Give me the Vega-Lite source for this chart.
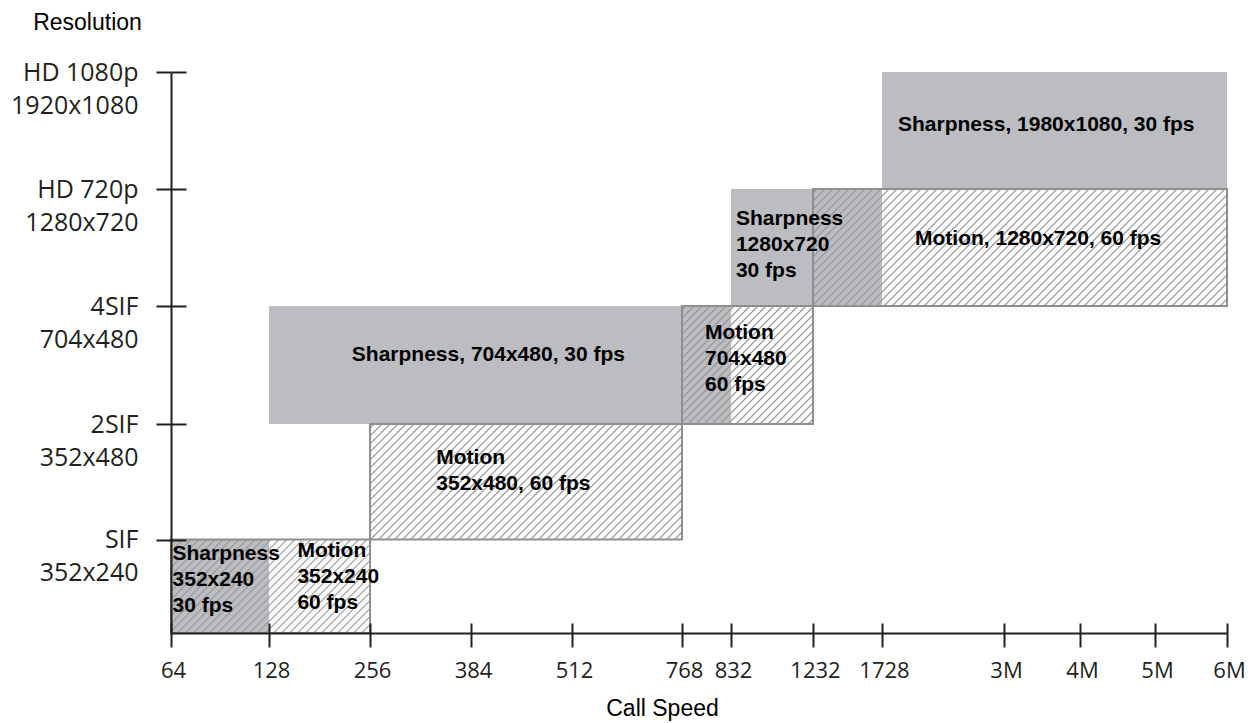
{
"$schema":"https://vega.github.io/schema/vega-lite/v6.json",
"autosize":{"type":"none"},
"padding":{"left":171,"top":72,"right":23,"bottom":90},
"width":1056,
"height":561,
"background":"white",
"config":{"view":{"stroke":null}},
"data":{"values":[
{"mode":"Sharpness","res":"352x240","fps":30,"speedFrom":64,"speedTo":128,"levelFrom":0,"levelTo":1,"label":"Sharpness\n352x240\n30 fps","labelSpeed":65,"labelLevel":0.78},
{"mode":"Motion","res":"352x240","fps":60,"speedFrom":64,"speedTo":256,"levelFrom":0,"levelTo":1,"label":"Motion\n352x240\n60 fps","labelSpeed":164,"labelLevel":0.81},
{"mode":"Motion","res":"352x480","fps":60,"speedFrom":256,"speedTo":768,"levelFrom":1,"levelTo":2,"label":"Motion\n352x480, 60 fps","labelSpeed":340,"labelLevel":1.65},
{"mode":"Sharpness","res":"704x480","fps":30,"speedFrom":128,"speedTo":832,"levelFrom":2,"levelTo":3,"label":"Sharpness, 704x480, 30 fps","labelSpeed":233,"labelLevel":2.53},
{"mode":"Motion","res":"704x480","fps":60,"speedFrom":768,"speedTo":1232,"levelFrom":2,"levelTo":3,"label":"Motion\n704x480\n60 fps","labelSpeed":798,"labelLevel":2.72},
{"mode":"Sharpness","res":"1280x720","fps":30,"speedFrom":832,"speedTo":1728,"levelFrom":3,"levelTo":4,"label":"Sharpness\n1280x720\n30 fps","labelSpeed":856,"labelLevel":3.69},
{"mode":"Motion","res":"1280x720","fps":60,"speedFrom":1232,"speedTo":6000,"levelFrom":3,"levelTo":4,"label":"Motion, 1280x720, 60 fps","labelSpeed":2072,"labelLevel":3.52},
{"mode":"Sharpness","res":"1920x1080","fps":30,"speedFrom":1728,"speedTo":6000,"levelFrom":4,"levelTo":5,"label":"Sharpness, 1980x1080, 30 fps","labelSpeed":1895,"labelLevel":4.5}
]},
"resolve":{"axis":{"x":"independent","y":"independent"}},
"layer":[
{
"transform":[{"filter":"datum.mode==='Sharpness'"}],
"mark":{"type":"rect","fill":"#bcbdc1"},
"encoding":{
"x":{"field":"speedFrom","type":"quantitative",
"scale":{"type":"linear","domain":[64,128,256,384,512,768,832,1232,1728,3000,4000,5000,6000],"range":[0,98,199,300,401,511,560,642,711,833,909,984,1056],"zero":false,"nice":false},
"axis":{"orient":"bottom","values":[64,128,256,384,512,768,832,1232,1728,3000,4000,5000,6000],"labelExpr":"datum.value>=3000?(datum.value/1000)+'M':datum.value+''","title":"Call Speed","titleX":491,"titleY":82,"titleAlign":"center","titleAnchor":"start","titleBaseline":"alphabetic","titleFont":"Liberation Sans","titleFontSize":23,"titleFontWeight":"normal","titleColor":"#000000","labelFont":"Open Sans","labelFontSize":22,"labelColor":"#231f20","labelBaseline":"alphabetic","labelPadding":30,"labelOffset":2,"labelAlign":"center","labelFlush":false,"labelOverlap":false,"tickSize":14,"tickWidth":2,"tickColor":"#231f20","domainColor":"#231f20","domainWidth":2,"grid":false,"zindex":1}},
"x2":{"field":"speedTo"},
"y":{"field":"levelFrom","type":"quantitative",
"scale":{"type":"linear","domain":[0,1,2,3,4,5],"range":[561,467.5,352,234,117,0],"zero":false,"nice":false},
"axis":{"orient":"left","values":[1,2,3,4,5],"labelExpr":"datum.value==1?['SIF','352x240']:datum.value==2?['2SIF','352x480']:datum.value==3?['4SIF','704x480']:datum.value==4?['HD 720p','1280x720']:['HD 1080p','1920x1080']","title":"Resolution","titleAngle":0,"titleX":-84,"titleY":-43,"titleAlign":"center","titleAnchor":"start","titleBaseline":"alphabetic","titleFont":"Liberation Sans","titleFontSize":23,"titleFontWeight":"normal","titleColor":"#000000","labelFont":"Open Sans","labelFontSize":25,"labelColor":"#231f20","labelAlign":"right","labelBaseline":"alphabetic","labelLineHeight":33,"labelOffset":8,"labelPadding":18,"labelOverlap":false,"labelFlush":false,"tickSize":15,"tickWidth":2,"tickColor":"#231f20","domainColor":"#231f20","domainWidth":2,"grid":false,"zindex":1}},
"y2":{"field":"levelTo"}
}
},
{
"transform":[{"filter":"datum.mode==='Motion' && datum.res==='352x240'"}],
"mark":{"type":"rect","stroke":"#8e8e8e","strokeWidth":2,"fill":{"gradient":"linear","x1":0,"y1":0,"x2":1.3172,"y2":0.6189,"stops":[
{"offset":0.0075,"color":"rgba(150,150,150,0)"},{"offset":0.0125,"color":"#969696"},{"offset":0.0175,"color":"rgba(150,150,150,0)"},
{"offset":0.0325,"color":"rgba(150,150,150,0)"},{"offset":0.0375,"color":"#969696"},{"offset":0.0425,"color":"rgba(150,150,150,0)"},
{"offset":0.0575,"color":"rgba(150,150,150,0)"},{"offset":0.0625,"color":"#969696"},{"offset":0.0675,"color":"rgba(150,150,150,0)"},
{"offset":0.0825,"color":"rgba(150,150,150,0)"},{"offset":0.0875,"color":"#969696"},{"offset":0.0925,"color":"rgba(150,150,150,0)"},
{"offset":0.1075,"color":"rgba(150,150,150,0)"},{"offset":0.1125,"color":"#969696"},{"offset":0.1175,"color":"rgba(150,150,150,0)"},
{"offset":0.1325,"color":"rgba(150,150,150,0)"},{"offset":0.1375,"color":"#969696"},{"offset":0.1425,"color":"rgba(150,150,150,0)"},
{"offset":0.1575,"color":"rgba(150,150,150,0)"},{"offset":0.1625,"color":"#969696"},{"offset":0.1675,"color":"rgba(150,150,150,0)"},
{"offset":0.1825,"color":"rgba(150,150,150,0)"},{"offset":0.1875,"color":"#969696"},{"offset":0.1925,"color":"rgba(150,150,150,0)"},
{"offset":0.2075,"color":"rgba(150,150,150,0)"},{"offset":0.2125,"color":"#969696"},{"offset":0.2175,"color":"rgba(150,150,150,0)"},
{"offset":0.2325,"color":"rgba(150,150,150,0)"},{"offset":0.2375,"color":"#969696"},{"offset":0.2425,"color":"rgba(150,150,150,0)"},
{"offset":0.2575,"color":"rgba(150,150,150,0)"},{"offset":0.2625,"color":"#969696"},{"offset":0.2675,"color":"rgba(150,150,150,0)"},
{"offset":0.2825,"color":"rgba(150,150,150,0)"},{"offset":0.2875,"color":"#969696"},{"offset":0.2925,"color":"rgba(150,150,150,0)"},
{"offset":0.3075,"color":"rgba(150,150,150,0)"},{"offset":0.3125,"color":"#969696"},{"offset":0.3175,"color":"rgba(150,150,150,0)"},
{"offset":0.3325,"color":"rgba(150,150,150,0)"},{"offset":0.3375,"color":"#969696"},{"offset":0.3425,"color":"rgba(150,150,150,0)"},
{"offset":0.3575,"color":"rgba(150,150,150,0)"},{"offset":0.3625,"color":"#969696"},{"offset":0.3675,"color":"rgba(150,150,150,0)"},
{"offset":0.3825,"color":"rgba(150,150,150,0)"},{"offset":0.3875,"color":"#969696"},{"offset":0.3925,"color":"rgba(150,150,150,0)"},
{"offset":0.4075,"color":"rgba(150,150,150,0)"},{"offset":0.4125,"color":"#969696"},{"offset":0.4175,"color":"rgba(150,150,150,0)"},
{"offset":0.4325,"color":"rgba(150,150,150,0)"},{"offset":0.4375,"color":"#969696"},{"offset":0.4425,"color":"rgba(150,150,150,0)"},
{"offset":0.4575,"color":"rgba(150,150,150,0)"},{"offset":0.4625,"color":"#969696"},{"offset":0.4675,"color":"rgba(150,150,150,0)"},
{"offset":0.4825,"color":"rgba(150,150,150,0)"},{"offset":0.4875,"color":"#969696"},{"offset":0.4925,"color":"rgba(150,150,150,0)"},
{"offset":0.5075,"color":"rgba(150,150,150,0)"},{"offset":0.5125,"color":"#969696"},{"offset":0.5175,"color":"rgba(150,150,150,0)"},
{"offset":0.5325,"color":"rgba(150,150,150,0)"},{"offset":0.5375,"color":"#969696"},{"offset":0.5425,"color":"rgba(150,150,150,0)"},
{"offset":0.5575,"color":"rgba(150,150,150,0)"},{"offset":0.5625,"color":"#969696"},{"offset":0.5675,"color":"rgba(150,150,150,0)"},
{"offset":0.5825,"color":"rgba(150,150,150,0)"},{"offset":0.5875,"color":"#969696"},{"offset":0.5925,"color":"rgba(150,150,150,0)"},
{"offset":0.6075,"color":"rgba(150,150,150,0)"},{"offset":0.6125,"color":"#969696"},{"offset":0.6175,"color":"rgba(150,150,150,0)"},
{"offset":0.6325,"color":"rgba(150,150,150,0)"},{"offset":0.6375,"color":"#969696"},{"offset":0.6425,"color":"rgba(150,150,150,0)"},
{"offset":0.6575,"color":"rgba(150,150,150,0)"},{"offset":0.6625,"color":"#969696"},{"offset":0.6675,"color":"rgba(150,150,150,0)"},
{"offset":0.6825,"color":"rgba(150,150,150,0)"},{"offset":0.6875,"color":"#969696"},{"offset":0.6925,"color":"rgba(150,150,150,0)"},
{"offset":0.7075,"color":"rgba(150,150,150,0)"},{"offset":0.7125,"color":"#969696"},{"offset":0.7175,"color":"rgba(150,150,150,0)"},
{"offset":0.7325,"color":"rgba(150,150,150,0)"},{"offset":0.7375,"color":"#969696"},{"offset":0.7425,"color":"rgba(150,150,150,0)"},
{"offset":0.7575,"color":"rgba(150,150,150,0)"},{"offset":0.7625,"color":"#969696"},{"offset":0.7675,"color":"rgba(150,150,150,0)"},
{"offset":0.7825,"color":"rgba(150,150,150,0)"},{"offset":0.7875,"color":"#969696"},{"offset":0.7925,"color":"rgba(150,150,150,0)"},
{"offset":0.8075,"color":"rgba(150,150,150,0)"},{"offset":0.8125,"color":"#969696"},{"offset":0.8175,"color":"rgba(150,150,150,0)"},
{"offset":0.8325,"color":"rgba(150,150,150,0)"},{"offset":0.8375,"color":"#969696"},{"offset":0.8425,"color":"rgba(150,150,150,0)"},
{"offset":0.8575,"color":"rgba(150,150,150,0)"},{"offset":0.8625,"color":"#969696"},{"offset":0.8675,"color":"rgba(150,150,150,0)"},
{"offset":0.8825,"color":"rgba(150,150,150,0)"},{"offset":0.8875,"color":"#969696"},{"offset":0.8925,"color":"rgba(150,150,150,0)"},
{"offset":0.9075,"color":"rgba(150,150,150,0)"},{"offset":0.9125,"color":"#969696"},{"offset":0.9175,"color":"rgba(150,150,150,0)"}
]}},
"encoding":{"x":{"field":"speedFrom","type":"quantitative","axis":null},"x2":{"field":"speedTo"},"y":{"field":"levelFrom","type":"quantitative","axis":null},"y2":{"field":"levelTo"}}
},
{
"transform":[{"filter":"datum.mode==='Motion' && datum.res==='352x480'"}],
"mark":{"type":"rect","stroke":"#8e8e8e","strokeWidth":2,"fill":{"gradient":"linear","x1":0,"y1":0,"x2":1.2528,"y2":0.4638,"stops":[
{"offset":0.0054,"color":"rgba(150,150,150,0)"},{"offset":0.009,"color":"#969696"},{"offset":0.0126,"color":"rgba(150,150,150,0)"},
{"offset":0.0234,"color":"rgba(150,150,150,0)"},{"offset":0.027,"color":"#969696"},{"offset":0.0306,"color":"rgba(150,150,150,0)"},
{"offset":0.0414,"color":"rgba(150,150,150,0)"},{"offset":0.045,"color":"#969696"},{"offset":0.0486,"color":"rgba(150,150,150,0)"},
{"offset":0.0594,"color":"rgba(150,150,150,0)"},{"offset":0.063,"color":"#969696"},{"offset":0.0666,"color":"rgba(150,150,150,0)"},
{"offset":0.0774,"color":"rgba(150,150,150,0)"},{"offset":0.081,"color":"#969696"},{"offset":0.0846,"color":"rgba(150,150,150,0)"},
{"offset":0.0954,"color":"rgba(150,150,150,0)"},{"offset":0.099,"color":"#969696"},{"offset":0.1026,"color":"rgba(150,150,150,0)"},
{"offset":0.1134,"color":"rgba(150,150,150,0)"},{"offset":0.117,"color":"#969696"},{"offset":0.1206,"color":"rgba(150,150,150,0)"},
{"offset":0.1314,"color":"rgba(150,150,150,0)"},{"offset":0.135,"color":"#969696"},{"offset":0.1386,"color":"rgba(150,150,150,0)"},
{"offset":0.1494,"color":"rgba(150,150,150,0)"},{"offset":0.153,"color":"#969696"},{"offset":0.1566,"color":"rgba(150,150,150,0)"},
{"offset":0.1674,"color":"rgba(150,150,150,0)"},{"offset":0.171,"color":"#969696"},{"offset":0.1746,"color":"rgba(150,150,150,0)"},
{"offset":0.1854,"color":"rgba(150,150,150,0)"},{"offset":0.189,"color":"#969696"},{"offset":0.1926,"color":"rgba(150,150,150,0)"},
{"offset":0.2034,"color":"rgba(150,150,150,0)"},{"offset":0.207,"color":"#969696"},{"offset":0.2106,"color":"rgba(150,150,150,0)"},
{"offset":0.2214,"color":"rgba(150,150,150,0)"},{"offset":0.225,"color":"#969696"},{"offset":0.2286,"color":"rgba(150,150,150,0)"},
{"offset":0.2394,"color":"rgba(150,150,150,0)"},{"offset":0.243,"color":"#969696"},{"offset":0.2466,"color":"rgba(150,150,150,0)"},
{"offset":0.2574,"color":"rgba(150,150,150,0)"},{"offset":0.261,"color":"#969696"},{"offset":0.2646,"color":"rgba(150,150,150,0)"},
{"offset":0.2754,"color":"rgba(150,150,150,0)"},{"offset":0.279,"color":"#969696"},{"offset":0.2826,"color":"rgba(150,150,150,0)"},
{"offset":0.2934,"color":"rgba(150,150,150,0)"},{"offset":0.297,"color":"#969696"},{"offset":0.3006,"color":"rgba(150,150,150,0)"},
{"offset":0.3114,"color":"rgba(150,150,150,0)"},{"offset":0.315,"color":"#969696"},{"offset":0.3186,"color":"rgba(150,150,150,0)"},
{"offset":0.3294,"color":"rgba(150,150,150,0)"},{"offset":0.333,"color":"#969696"},{"offset":0.3366,"color":"rgba(150,150,150,0)"},
{"offset":0.3474,"color":"rgba(150,150,150,0)"},{"offset":0.351,"color":"#969696"},{"offset":0.3546,"color":"rgba(150,150,150,0)"},
{"offset":0.3654,"color":"rgba(150,150,150,0)"},{"offset":0.369,"color":"#969696"},{"offset":0.3726,"color":"rgba(150,150,150,0)"},
{"offset":0.3834,"color":"rgba(150,150,150,0)"},{"offset":0.387,"color":"#969696"},{"offset":0.3906,"color":"rgba(150,150,150,0)"},
{"offset":0.4014,"color":"rgba(150,150,150,0)"},{"offset":0.405,"color":"#969696"},{"offset":0.4086,"color":"rgba(150,150,150,0)"},
{"offset":0.4194,"color":"rgba(150,150,150,0)"},{"offset":0.423,"color":"#969696"},{"offset":0.4266,"color":"rgba(150,150,150,0)"},
{"offset":0.4374,"color":"rgba(150,150,150,0)"},{"offset":0.441,"color":"#969696"},{"offset":0.4446,"color":"rgba(150,150,150,0)"},
{"offset":0.4554,"color":"rgba(150,150,150,0)"},{"offset":0.459,"color":"#969696"},{"offset":0.4626,"color":"rgba(150,150,150,0)"},
{"offset":0.4734,"color":"rgba(150,150,150,0)"},{"offset":0.477,"color":"#969696"},{"offset":0.4806,"color":"rgba(150,150,150,0)"},
{"offset":0.4914,"color":"rgba(150,150,150,0)"},{"offset":0.495,"color":"#969696"},{"offset":0.4986,"color":"rgba(150,150,150,0)"},
{"offset":0.5094,"color":"rgba(150,150,150,0)"},{"offset":0.513,"color":"#969696"},{"offset":0.5166,"color":"rgba(150,150,150,0)"},
{"offset":0.5274,"color":"rgba(150,150,150,0)"},{"offset":0.531,"color":"#969696"},{"offset":0.5346,"color":"rgba(150,150,150,0)"},
{"offset":0.5454,"color":"rgba(150,150,150,0)"},{"offset":0.549,"color":"#969696"},{"offset":0.5526,"color":"rgba(150,150,150,0)"},
{"offset":0.5634,"color":"rgba(150,150,150,0)"},{"offset":0.567,"color":"#969696"},{"offset":0.5706,"color":"rgba(150,150,150,0)"},
{"offset":0.5814,"color":"rgba(150,150,150,0)"},{"offset":0.585,"color":"#969696"},{"offset":0.5886,"color":"rgba(150,150,150,0)"},
{"offset":0.5994,"color":"rgba(150,150,150,0)"},{"offset":0.603,"color":"#969696"},{"offset":0.6066,"color":"rgba(150,150,150,0)"},
{"offset":0.6174,"color":"rgba(150,150,150,0)"},{"offset":0.621,"color":"#969696"},{"offset":0.6246,"color":"rgba(150,150,150,0)"},
{"offset":0.6354,"color":"rgba(150,150,150,0)"},{"offset":0.639,"color":"#969696"},{"offset":0.6426,"color":"rgba(150,150,150,0)"},
{"offset":0.6534,"color":"rgba(150,150,150,0)"},{"offset":0.657,"color":"#969696"},{"offset":0.6606,"color":"rgba(150,150,150,0)"},
{"offset":0.6714,"color":"rgba(150,150,150,0)"},{"offset":0.675,"color":"#969696"},{"offset":0.6786,"color":"rgba(150,150,150,0)"},
{"offset":0.6894,"color":"rgba(150,150,150,0)"},{"offset":0.693,"color":"#969696"},{"offset":0.6966,"color":"rgba(150,150,150,0)"},
{"offset":0.7074,"color":"rgba(150,150,150,0)"},{"offset":0.711,"color":"#969696"},{"offset":0.7146,"color":"rgba(150,150,150,0)"},
{"offset":0.7254,"color":"rgba(150,150,150,0)"},{"offset":0.729,"color":"#969696"},{"offset":0.7326,"color":"rgba(150,150,150,0)"},
{"offset":0.7434,"color":"rgba(150,150,150,0)"},{"offset":0.747,"color":"#969696"},{"offset":0.7506,"color":"rgba(150,150,150,0)"},
{"offset":0.7614,"color":"rgba(150,150,150,0)"},{"offset":0.765,"color":"#969696"},{"offset":0.7686,"color":"rgba(150,150,150,0)"},
{"offset":0.7794,"color":"rgba(150,150,150,0)"},{"offset":0.783,"color":"#969696"},{"offset":0.7866,"color":"rgba(150,150,150,0)"},
{"offset":0.7974,"color":"rgba(150,150,150,0)"},{"offset":0.801,"color":"#969696"},{"offset":0.8046,"color":"rgba(150,150,150,0)"},
{"offset":0.8154,"color":"rgba(150,150,150,0)"},{"offset":0.819,"color":"#969696"},{"offset":0.8226,"color":"rgba(150,150,150,0)"},
{"offset":0.8334,"color":"rgba(150,150,150,0)"},{"offset":0.837,"color":"#969696"},{"offset":0.8406,"color":"rgba(150,150,150,0)"},
{"offset":0.8514,"color":"rgba(150,150,150,0)"},{"offset":0.855,"color":"#969696"},{"offset":0.8586,"color":"rgba(150,150,150,0)"},
{"offset":0.8694,"color":"rgba(150,150,150,0)"},{"offset":0.873,"color":"#969696"},{"offset":0.8766,"color":"rgba(150,150,150,0)"},
{"offset":0.8874,"color":"rgba(150,150,150,0)"},{"offset":0.891,"color":"#969696"},{"offset":0.8946,"color":"rgba(150,150,150,0)"},
{"offset":0.9054,"color":"rgba(150,150,150,0)"},{"offset":0.909,"color":"#969696"},{"offset":0.9126,"color":"rgba(150,150,150,0)"},
{"offset":0.9234,"color":"rgba(150,150,150,0)"},{"offset":0.927,"color":"#969696"},{"offset":0.9306,"color":"rgba(150,150,150,0)"},
{"offset":0.9414,"color":"rgba(150,150,150,0)"},{"offset":0.945,"color":"#969696"},{"offset":0.9486,"color":"rgba(150,150,150,0)"},
{"offset":0.9594,"color":"rgba(150,150,150,0)"},{"offset":0.963,"color":"#969696"},{"offset":0.9666,"color":"rgba(150,150,150,0)"}
]}},
"encoding":{"x":{"field":"speedFrom","type":"quantitative","axis":null},"x2":{"field":"speedTo"},"y":{"field":"levelFrom","type":"quantitative","axis":null},"y2":{"field":"levelTo"}}
},
{
"transform":[{"filter":"datum.mode==='Motion' && datum.res==='704x480'"}],
"mark":{"type":"rect","stroke":"#8e8e8e","strokeWidth":2,"fill":{"gradient":"linear","x1":0,"y1":0,"x2":1.1238,"y2":1.0123,"stops":[
{"offset":0.009,"color":"rgba(150,150,150,0)"},{"offset":0.015,"color":"#969696"},{"offset":0.021,"color":"rgba(150,150,150,0)"},
{"offset":0.039,"color":"rgba(150,150,150,0)"},{"offset":0.045,"color":"#969696"},{"offset":0.051,"color":"rgba(150,150,150,0)"},
{"offset":0.069,"color":"rgba(150,150,150,0)"},{"offset":0.075,"color":"#969696"},{"offset":0.081,"color":"rgba(150,150,150,0)"},
{"offset":0.099,"color":"rgba(150,150,150,0)"},{"offset":0.105,"color":"#969696"},{"offset":0.111,"color":"rgba(150,150,150,0)"},
{"offset":0.129,"color":"rgba(150,150,150,0)"},{"offset":0.135,"color":"#969696"},{"offset":0.141,"color":"rgba(150,150,150,0)"},
{"offset":0.159,"color":"rgba(150,150,150,0)"},{"offset":0.165,"color":"#969696"},{"offset":0.171,"color":"rgba(150,150,150,0)"},
{"offset":0.189,"color":"rgba(150,150,150,0)"},{"offset":0.195,"color":"#969696"},{"offset":0.201,"color":"rgba(150,150,150,0)"},
{"offset":0.219,"color":"rgba(150,150,150,0)"},{"offset":0.225,"color":"#969696"},{"offset":0.231,"color":"rgba(150,150,150,0)"},
{"offset":0.249,"color":"rgba(150,150,150,0)"},{"offset":0.255,"color":"#969696"},{"offset":0.261,"color":"rgba(150,150,150,0)"},
{"offset":0.279,"color":"rgba(150,150,150,0)"},{"offset":0.285,"color":"#969696"},{"offset":0.291,"color":"rgba(150,150,150,0)"},
{"offset":0.309,"color":"rgba(150,150,150,0)"},{"offset":0.315,"color":"#969696"},{"offset":0.321,"color":"rgba(150,150,150,0)"},
{"offset":0.339,"color":"rgba(150,150,150,0)"},{"offset":0.345,"color":"#969696"},{"offset":0.351,"color":"rgba(150,150,150,0)"},
{"offset":0.369,"color":"rgba(150,150,150,0)"},{"offset":0.375,"color":"#969696"},{"offset":0.381,"color":"rgba(150,150,150,0)"},
{"offset":0.399,"color":"rgba(150,150,150,0)"},{"offset":0.405,"color":"#969696"},{"offset":0.411,"color":"rgba(150,150,150,0)"},
{"offset":0.429,"color":"rgba(150,150,150,0)"},{"offset":0.435,"color":"#969696"},{"offset":0.441,"color":"rgba(150,150,150,0)"},
{"offset":0.459,"color":"rgba(150,150,150,0)"},{"offset":0.465,"color":"#969696"},{"offset":0.471,"color":"rgba(150,150,150,0)"},
{"offset":0.489,"color":"rgba(150,150,150,0)"},{"offset":0.495,"color":"#969696"},{"offset":0.501,"color":"rgba(150,150,150,0)"},
{"offset":0.519,"color":"rgba(150,150,150,0)"},{"offset":0.525,"color":"#969696"},{"offset":0.531,"color":"rgba(150,150,150,0)"},
{"offset":0.549,"color":"rgba(150,150,150,0)"},{"offset":0.555,"color":"#969696"},{"offset":0.561,"color":"rgba(150,150,150,0)"},
{"offset":0.579,"color":"rgba(150,150,150,0)"},{"offset":0.585,"color":"#969696"},{"offset":0.591,"color":"rgba(150,150,150,0)"},
{"offset":0.609,"color":"rgba(150,150,150,0)"},{"offset":0.615,"color":"#969696"},{"offset":0.621,"color":"rgba(150,150,150,0)"},
{"offset":0.639,"color":"rgba(150,150,150,0)"},{"offset":0.645,"color":"#969696"},{"offset":0.651,"color":"rgba(150,150,150,0)"},
{"offset":0.669,"color":"rgba(150,150,150,0)"},{"offset":0.675,"color":"#969696"},{"offset":0.681,"color":"rgba(150,150,150,0)"},
{"offset":0.699,"color":"rgba(150,150,150,0)"},{"offset":0.705,"color":"#969696"},{"offset":0.711,"color":"rgba(150,150,150,0)"},
{"offset":0.729,"color":"rgba(150,150,150,0)"},{"offset":0.735,"color":"#969696"},{"offset":0.741,"color":"rgba(150,150,150,0)"},
{"offset":0.759,"color":"rgba(150,150,150,0)"},{"offset":0.765,"color":"#969696"},{"offset":0.771,"color":"rgba(150,150,150,0)"},
{"offset":0.789,"color":"rgba(150,150,150,0)"},{"offset":0.795,"color":"#969696"},{"offset":0.801,"color":"rgba(150,150,150,0)"},
{"offset":0.819,"color":"rgba(150,150,150,0)"},{"offset":0.825,"color":"#969696"},{"offset":0.831,"color":"rgba(150,150,150,0)"},
{"offset":0.849,"color":"rgba(150,150,150,0)"},{"offset":0.855,"color":"#969696"},{"offset":0.861,"color":"rgba(150,150,150,0)"},
{"offset":0.879,"color":"rgba(150,150,150,0)"},{"offset":0.885,"color":"#969696"},{"offset":0.891,"color":"rgba(150,150,150,0)"},
{"offset":0.909,"color":"rgba(150,150,150,0)"},{"offset":0.915,"color":"#969696"},{"offset":0.921,"color":"rgba(150,150,150,0)"},
{"offset":0.939,"color":"rgba(150,150,150,0)"},{"offset":0.945,"color":"#969696"},{"offset":0.951,"color":"rgba(150,150,150,0)"}
]}},
"encoding":{"x":{"field":"speedFrom","type":"quantitative","axis":null},"x2":{"field":"speedTo"},"y":{"field":"levelFrom","type":"quantitative","axis":null},"y2":{"field":"levelTo"}}
},
{
"transform":[{"filter":"datum.mode==='Motion' && datum.res==='1280x720'"}],
"mark":{"type":"rect","stroke":"#8e8e8e","strokeWidth":2,"fill":{"gradient":"linear","x1":0,"y1":0,"x2":1.193,"y2":0.3371,"stops":[
{"offset":0.0045,"color":"rgba(150,150,150,0)"},{"offset":0.0075,"color":"#969696"},{"offset":0.0105,"color":"rgba(150,150,150,0)"},
{"offset":0.0195,"color":"rgba(150,150,150,0)"},{"offset":0.0225,"color":"#969696"},{"offset":0.0255,"color":"rgba(150,150,150,0)"},
{"offset":0.0345,"color":"rgba(150,150,150,0)"},{"offset":0.0375,"color":"#969696"},{"offset":0.0405,"color":"rgba(150,150,150,0)"},
{"offset":0.0495,"color":"rgba(150,150,150,0)"},{"offset":0.0525,"color":"#969696"},{"offset":0.0555,"color":"rgba(150,150,150,0)"},
{"offset":0.0645,"color":"rgba(150,150,150,0)"},{"offset":0.0675,"color":"#969696"},{"offset":0.0705,"color":"rgba(150,150,150,0)"},
{"offset":0.0795,"color":"rgba(150,150,150,0)"},{"offset":0.0825,"color":"#969696"},{"offset":0.0855,"color":"rgba(150,150,150,0)"},
{"offset":0.0945,"color":"rgba(150,150,150,0)"},{"offset":0.0975,"color":"#969696"},{"offset":0.1005,"color":"rgba(150,150,150,0)"},
{"offset":0.1095,"color":"rgba(150,150,150,0)"},{"offset":0.1125,"color":"#969696"},{"offset":0.1155,"color":"rgba(150,150,150,0)"},
{"offset":0.1245,"color":"rgba(150,150,150,0)"},{"offset":0.1275,"color":"#969696"},{"offset":0.1305,"color":"rgba(150,150,150,0)"},
{"offset":0.1395,"color":"rgba(150,150,150,0)"},{"offset":0.1425,"color":"#969696"},{"offset":0.1455,"color":"rgba(150,150,150,0)"},
{"offset":0.1545,"color":"rgba(150,150,150,0)"},{"offset":0.1575,"color":"#969696"},{"offset":0.1605,"color":"rgba(150,150,150,0)"},
{"offset":0.1695,"color":"rgba(150,150,150,0)"},{"offset":0.1725,"color":"#969696"},{"offset":0.1755,"color":"rgba(150,150,150,0)"},
{"offset":0.1845,"color":"rgba(150,150,150,0)"},{"offset":0.1875,"color":"#969696"},{"offset":0.1905,"color":"rgba(150,150,150,0)"},
{"offset":0.1995,"color":"rgba(150,150,150,0)"},{"offset":0.2025,"color":"#969696"},{"offset":0.2055,"color":"rgba(150,150,150,0)"},
{"offset":0.2145,"color":"rgba(150,150,150,0)"},{"offset":0.2175,"color":"#969696"},{"offset":0.2205,"color":"rgba(150,150,150,0)"},
{"offset":0.2295,"color":"rgba(150,150,150,0)"},{"offset":0.2325,"color":"#969696"},{"offset":0.2355,"color":"rgba(150,150,150,0)"},
{"offset":0.2445,"color":"rgba(150,150,150,0)"},{"offset":0.2475,"color":"#969696"},{"offset":0.2505,"color":"rgba(150,150,150,0)"},
{"offset":0.2595,"color":"rgba(150,150,150,0)"},{"offset":0.2625,"color":"#969696"},{"offset":0.2655,"color":"rgba(150,150,150,0)"},
{"offset":0.2745,"color":"rgba(150,150,150,0)"},{"offset":0.2775,"color":"#969696"},{"offset":0.2805,"color":"rgba(150,150,150,0)"},
{"offset":0.2895,"color":"rgba(150,150,150,0)"},{"offset":0.2925,"color":"#969696"},{"offset":0.2955,"color":"rgba(150,150,150,0)"},
{"offset":0.3045,"color":"rgba(150,150,150,0)"},{"offset":0.3075,"color":"#969696"},{"offset":0.3105,"color":"rgba(150,150,150,0)"},
{"offset":0.3195,"color":"rgba(150,150,150,0)"},{"offset":0.3225,"color":"#969696"},{"offset":0.3255,"color":"rgba(150,150,150,0)"},
{"offset":0.3345,"color":"rgba(150,150,150,0)"},{"offset":0.3375,"color":"#969696"},{"offset":0.3405,"color":"rgba(150,150,150,0)"},
{"offset":0.3495,"color":"rgba(150,150,150,0)"},{"offset":0.3525,"color":"#969696"},{"offset":0.3555,"color":"rgba(150,150,150,0)"},
{"offset":0.3645,"color":"rgba(150,150,150,0)"},{"offset":0.3675,"color":"#969696"},{"offset":0.3705,"color":"rgba(150,150,150,0)"},
{"offset":0.3795,"color":"rgba(150,150,150,0)"},{"offset":0.3825,"color":"#969696"},{"offset":0.3855,"color":"rgba(150,150,150,0)"},
{"offset":0.3945,"color":"rgba(150,150,150,0)"},{"offset":0.3975,"color":"#969696"},{"offset":0.4005,"color":"rgba(150,150,150,0)"},
{"offset":0.4095,"color":"rgba(150,150,150,0)"},{"offset":0.4125,"color":"#969696"},{"offset":0.4155,"color":"rgba(150,150,150,0)"},
{"offset":0.4245,"color":"rgba(150,150,150,0)"},{"offset":0.4275,"color":"#969696"},{"offset":0.4305,"color":"rgba(150,150,150,0)"},
{"offset":0.4395,"color":"rgba(150,150,150,0)"},{"offset":0.4425,"color":"#969696"},{"offset":0.4455,"color":"rgba(150,150,150,0)"},
{"offset":0.4545,"color":"rgba(150,150,150,0)"},{"offset":0.4575,"color":"#969696"},{"offset":0.4605,"color":"rgba(150,150,150,0)"},
{"offset":0.4695,"color":"rgba(150,150,150,0)"},{"offset":0.4725,"color":"#969696"},{"offset":0.4755,"color":"rgba(150,150,150,0)"},
{"offset":0.4845,"color":"rgba(150,150,150,0)"},{"offset":0.4875,"color":"#969696"},{"offset":0.4905,"color":"rgba(150,150,150,0)"},
{"offset":0.4995,"color":"rgba(150,150,150,0)"},{"offset":0.5025,"color":"#969696"},{"offset":0.5055,"color":"rgba(150,150,150,0)"},
{"offset":0.5145,"color":"rgba(150,150,150,0)"},{"offset":0.5175,"color":"#969696"},{"offset":0.5205,"color":"rgba(150,150,150,0)"},
{"offset":0.5295,"color":"rgba(150,150,150,0)"},{"offset":0.5325,"color":"#969696"},{"offset":0.5355,"color":"rgba(150,150,150,0)"},
{"offset":0.5445,"color":"rgba(150,150,150,0)"},{"offset":0.5475,"color":"#969696"},{"offset":0.5505,"color":"rgba(150,150,150,0)"},
{"offset":0.5595,"color":"rgba(150,150,150,0)"},{"offset":0.5625,"color":"#969696"},{"offset":0.5655,"color":"rgba(150,150,150,0)"},
{"offset":0.5745,"color":"rgba(150,150,150,0)"},{"offset":0.5775,"color":"#969696"},{"offset":0.5805,"color":"rgba(150,150,150,0)"},
{"offset":0.5895,"color":"rgba(150,150,150,0)"},{"offset":0.5925,"color":"#969696"},{"offset":0.5955,"color":"rgba(150,150,150,0)"},
{"offset":0.6045,"color":"rgba(150,150,150,0)"},{"offset":0.6075,"color":"#969696"},{"offset":0.6105,"color":"rgba(150,150,150,0)"},
{"offset":0.6195,"color":"rgba(150,150,150,0)"},{"offset":0.6225,"color":"#969696"},{"offset":0.6255,"color":"rgba(150,150,150,0)"},
{"offset":0.6345,"color":"rgba(150,150,150,0)"},{"offset":0.6375,"color":"#969696"},{"offset":0.6405,"color":"rgba(150,150,150,0)"},
{"offset":0.6495,"color":"rgba(150,150,150,0)"},{"offset":0.6525,"color":"#969696"},{"offset":0.6555,"color":"rgba(150,150,150,0)"},
{"offset":0.6645,"color":"rgba(150,150,150,0)"},{"offset":0.6675,"color":"#969696"},{"offset":0.6705,"color":"rgba(150,150,150,0)"},
{"offset":0.6795,"color":"rgba(150,150,150,0)"},{"offset":0.6825,"color":"#969696"},{"offset":0.6855,"color":"rgba(150,150,150,0)"},
{"offset":0.6945,"color":"rgba(150,150,150,0)"},{"offset":0.6975,"color":"#969696"},{"offset":0.7005,"color":"rgba(150,150,150,0)"},
{"offset":0.7095,"color":"rgba(150,150,150,0)"},{"offset":0.7125,"color":"#969696"},{"offset":0.7155,"color":"rgba(150,150,150,0)"},
{"offset":0.7245,"color":"rgba(150,150,150,0)"},{"offset":0.7275,"color":"#969696"},{"offset":0.7305,"color":"rgba(150,150,150,0)"},
{"offset":0.7395,"color":"rgba(150,150,150,0)"},{"offset":0.7425,"color":"#969696"},{"offset":0.7455,"color":"rgba(150,150,150,0)"},
{"offset":0.7545,"color":"rgba(150,150,150,0)"},{"offset":0.7575,"color":"#969696"},{"offset":0.7605,"color":"rgba(150,150,150,0)"},
{"offset":0.7695,"color":"rgba(150,150,150,0)"},{"offset":0.7725,"color":"#969696"},{"offset":0.7755,"color":"rgba(150,150,150,0)"},
{"offset":0.7845,"color":"rgba(150,150,150,0)"},{"offset":0.7875,"color":"#969696"},{"offset":0.7905,"color":"rgba(150,150,150,0)"},
{"offset":0.7995,"color":"rgba(150,150,150,0)"},{"offset":0.8025,"color":"#969696"},{"offset":0.8055,"color":"rgba(150,150,150,0)"},
{"offset":0.8145,"color":"rgba(150,150,150,0)"},{"offset":0.8175,"color":"#969696"},{"offset":0.8205,"color":"rgba(150,150,150,0)"},
{"offset":0.8295,"color":"rgba(150,150,150,0)"},{"offset":0.8325,"color":"#969696"},{"offset":0.8355,"color":"rgba(150,150,150,0)"},
{"offset":0.8445,"color":"rgba(150,150,150,0)"},{"offset":0.8475,"color":"#969696"},{"offset":0.8505,"color":"rgba(150,150,150,0)"},
{"offset":0.8595,"color":"rgba(150,150,150,0)"},{"offset":0.8625,"color":"#969696"},{"offset":0.8655,"color":"rgba(150,150,150,0)"},
{"offset":0.8745,"color":"rgba(150,150,150,0)"},{"offset":0.8775,"color":"#969696"},{"offset":0.8805,"color":"rgba(150,150,150,0)"},
{"offset":0.8895,"color":"rgba(150,150,150,0)"},{"offset":0.8925,"color":"#969696"},{"offset":0.8955,"color":"rgba(150,150,150,0)"},
{"offset":0.9045,"color":"rgba(150,150,150,0)"},{"offset":0.9075,"color":"#969696"},{"offset":0.9105,"color":"rgba(150,150,150,0)"},
{"offset":0.9195,"color":"rgba(150,150,150,0)"},{"offset":0.9225,"color":"#969696"},{"offset":0.9255,"color":"rgba(150,150,150,0)"},
{"offset":0.9345,"color":"rgba(150,150,150,0)"},{"offset":0.9375,"color":"#969696"},{"offset":0.9405,"color":"rgba(150,150,150,0)"},
{"offset":0.9495,"color":"rgba(150,150,150,0)"},{"offset":0.9525,"color":"#969696"},{"offset":0.9555,"color":"rgba(150,150,150,0)"},
{"offset":0.9645,"color":"rgba(150,150,150,0)"},{"offset":0.9675,"color":"#969696"},{"offset":0.9705,"color":"rgba(150,150,150,0)"},
{"offset":0.9795,"color":"rgba(150,150,150,0)"},{"offset":0.9825,"color":"#969696"},{"offset":0.9855,"color":"rgba(150,150,150,0)"},
{"offset":0.9945,"color":"rgba(150,150,150,0)"},{"offset":0.9975,"color":"#969696"},{"offset":1,"color":"rgba(150,150,150,0)"}
]}},
"encoding":{"x":{"field":"speedFrom","type":"quantitative","axis":null},"x2":{"field":"speedTo"},"y":{"field":"levelFrom","type":"quantitative","axis":null},"y2":{"field":"levelTo"}}
},
{
"mark":{"type":"text","font":"Liberation Sans","fontWeight":"bold","fontSize":21,"align":"left","baseline":"alphabetic","lineBreak":"\n","lineHeight":26,"color":"#000000"},
"encoding":{
"x":{"field":"labelSpeed","type":"quantitative","axis":{"orient":"bottom","values":[64,128,256,384,512,768,832,1232,1728,3000,4000,5000,6000],"tickSize":-10,"tickWidth":2,"tickColor":"#231f20","labels":false,"domain":false,"title":null,"grid":false,"zindex":1}},
"y":{"field":"labelLevel","type":"quantitative","axis":{"orient":"left","values":[1,2,3,4,5],"tickSize":-15,"tickWidth":2,"tickColor":"#231f20","labels":false,"domain":false,"title":null,"grid":false,"zindex":1}},
"text":{"field":"label"}
}
}
]
}
